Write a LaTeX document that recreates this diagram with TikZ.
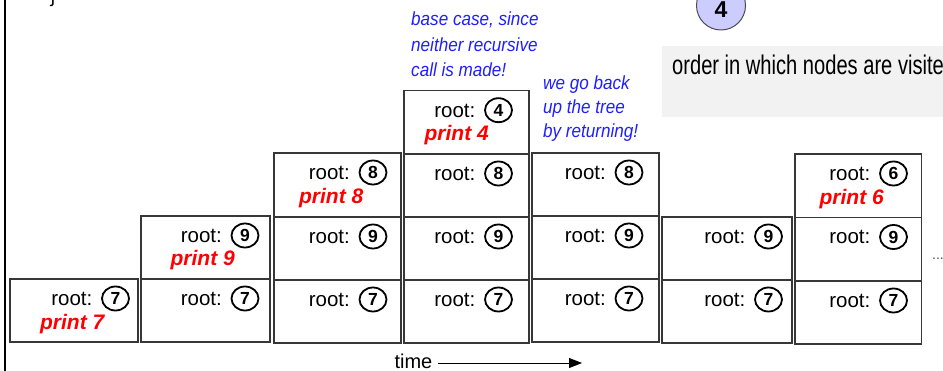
\documentclass[tikz,border=0pt]{standalone}
\usepackage{fontspec}
\setmainfont{Liberation Sans}
\newfontfamily\notefont[FakeStretch=0.9]{Liberation Sans}
\newfontfamily\condfont[FakeStretch=0.745]{Liberation Sans}
\usetikzlibrary{arrows.meta,shapes.geometric}
\definecolor{notecol}{RGB}{30,30,255}
\definecolor{framecol}{RGB}{55,55,55}
\definecolor{lav}{RGB}{204,204,255}
\definecolor{greybox}{RGB}{242,242,242}
\tikzset{
  framebox/.style={draw=framecol, line width=1.4pt},
  numcirc/.style={ellipse, draw=black, line width=1.8pt, minimum width=27pt, minimum height=24pt, inner sep=0pt,
    font=\fontsize{17.5}{17.5}\selectfont\bfseries},
  rootlbl/.style={anchor=base east, inner sep=0pt, font=\fontsize{20.5}{24}\selectfont},
  printlbl/.style={anchor=base east, inner sep=0pt, text=red,
    font=\fontsize{21}{24}\selectfont\bfseries\itshape},
  notelbl/.style={anchor=base west, inner sep=0pt, text=notecol,
    font=\notefont\itshape\fontsize{19}{19}\selectfont},
  timearrow/.style={line width=0.8pt, -{Triangle[length=13pt,width=10pt]}}
}
% name, x1, x2, top, bottom, cx, digit
\newcommand\stk[7]{%
  \draw[framebox] (#2,#4) rectangle (#3,#5);
  \node[numcirc] (#1c) at (#6,#4+19.5) {#7};
  \node[rootlbl] (#1r) at (#6-23,#4+26.5) {root:};
}
\begin{document}
\begin{tikzpicture}[x=1pt,y=-1pt]
\useasboundingbox (0,0) rectangle (943,371);

% left rule and brace
\draw[line width=2pt] (5,-5) -- (5,380);
\node[anchor=base, inner sep=0pt, font=\fontsize{20}{20}\selectfont] (brace) at (53,3) {\}};

% top circle
\node[circle, draw=black!70, fill=lav, line width=1pt, minimum size=49pt, inner sep=0pt] (topc) at (721,5.5) {};
\node[inner sep=0pt, font=\fontsize{23}{23}\selectfont\bfseries] (topn) at (721,9.5) {4};

% grey legend box
\fill[greybox] (662,46) rectangle (950,117);
\node[anchor=base west, inner sep=0pt, font=\condfont\fontsize{27}{27}\selectfont] (order) at (672,75) {order in which nodes are visited};

% stacks
\stk{a1}{10}{138}{279}{342}{115.5}{7}
\stk{b1}{141}{270}{279}{342}{245}{7}
\stk{b2}{141}{270}{216}{279}{245}{9}
\stk{c1}{274}{401}{280}{343}{373}{7}
\stk{c2}{274}{401}{217}{280}{373}{9}
\stk{c3}{274}{401}{153}{217}{373}{8}
\stk{d1}{404}{529}{280}{343}{498.5}{7}
\stk{d2}{404}{529}{217}{280}{498.5}{9}
\stk{d3}{404}{529}{154}{217}{498.5}{8}
\stk{d4}{404}{529}{90.7}{154}{498.5}{4}
\stk{e1}{532}{659}{279}{342}{629}{7}
\stk{e2}{532}{659}{216}{279}{629}{9}
\stk{e3}{532}{659}{153}{216}{629}{8}
\stk{f1}{662}{792}{280}{343}{768.5}{7}
\stk{f2}{662}{792}{217}{280}{768.5}{9}
\stk{g1}{795}{921.5}{281}{344}{893.5}{7}
\stk{g2}{795}{921.5}{217.5}{281}{893.5}{9}
\stk{g3}{795}{921.5}{154}{217.5}{893.5}{6}

% print labels
\node[printlbl] (p7) at (104.5,329.5) {print 7};
\node[printlbl] (p9) at (235,266) {print 9};
\node[printlbl] (p8) at (363.5,203.5) {print 8};
\node[printlbl] (p4) at (489,140.5) {print 4};
\node[printlbl] (p6) at (884,204.5) {print 6};

% notes
\node[notelbl] (n1a) at (411,26) {base case, since};
\node[notelbl] (n1b) at (411,51.5) {neither recursive};
\node[notelbl] (n1c) at (411,77) {call is made!};
\node[notelbl] (n2a) at (543,89.5) {we go back};
\node[notelbl] (n2b) at (543,114) {up the tree};
\node[notelbl] (n2c) at (543,138) {by returning!};

% ellipsis
\node[anchor=base west, inner sep=0pt, text=black!70, font=\fontsize{14}{14}\selectfont] (dots) at (932,260) {...};

% time arrow
\node[anchor=base east, inner sep=0pt, font=\fontsize{20}{20}\selectfont] (timelbl) at (432.5,368.5) {time};
\coordinate (ts) at (438,363);
\coordinate (te) at (582,363);
\draw[timearrow] (ts) -- (te);
\end{tikzpicture}
\end{document}
